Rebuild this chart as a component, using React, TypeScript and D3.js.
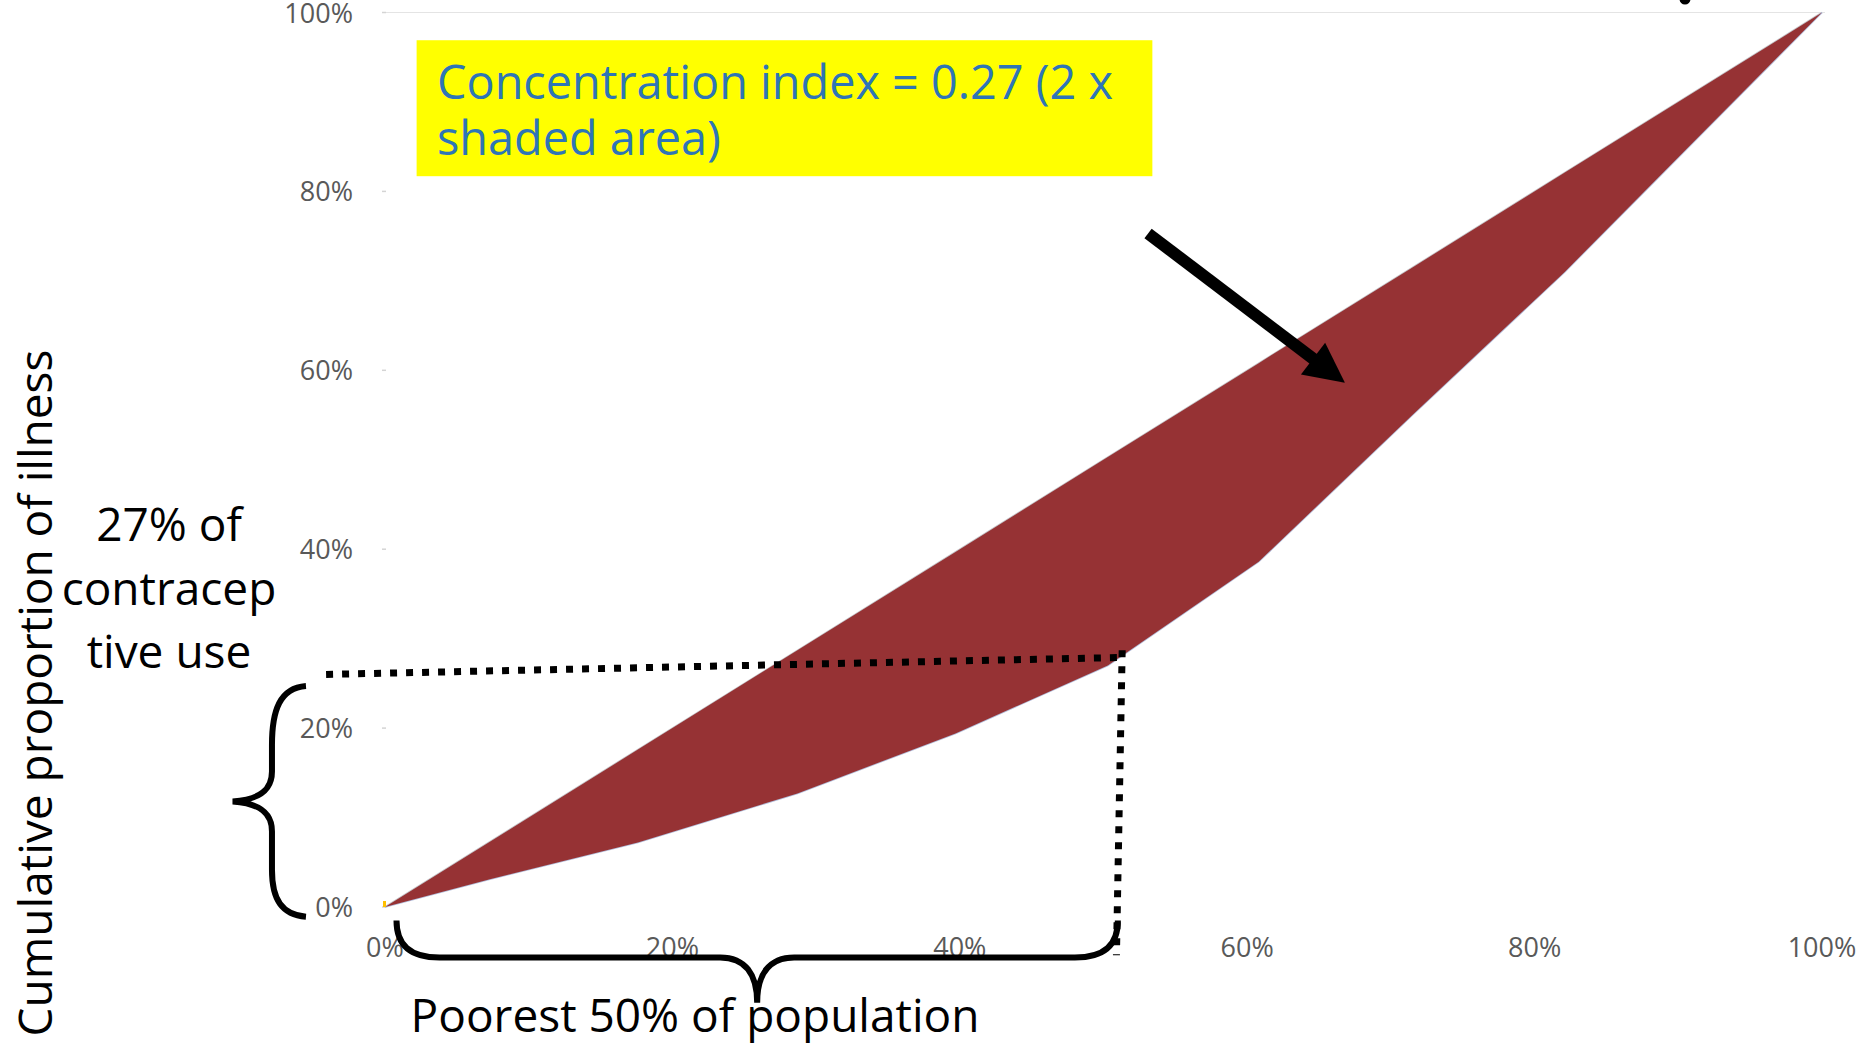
import React from "react";
import * as d3 from "d3";

// cumulative share of population (ranked poorest first) and of illness, in %
const populationShare = [0, 7.3, 17.6, 28.7, 39.7, 50.3, 60.8, 71.5, 82.1, 100];
const illnessShare = [0, 3.1, 7.2, 12.7, 19.4, 27.0, 38.6, 55.0, 71.0, 100];
const tickValues = [0, 20, 40, 60, 80, 100];

// annotation anchors, in data units (%)
const dottedH = [[-4.1, 26.0], [51.3, 27.9]];
const dottedV = [[51.3, 28.7], [50.9, -5.4]];
const arrowPts = [[53.1, 75.3], [66.8, 58.6]];
const boxCorners = [[2.2, 96.9], [53.4, 81.7]];
const boxLines = ["Concentration index = 0.27 (2 x", "shaded area)"];
const sideLines = ["27% of", "contracep", "tive use"];

const W = 1860;
const H = 1044;
const font = "'Open Sans', 'Liberation Sans', sans-serif";

const App = () => {
  const x = d3.scaleLinear().domain([0, 100]).range([385, 1822]);
  const y = d3.scaleLinear().domain([0, 100]).range([907, 12.5]);

  const pts = populationShare.map((p, i) => ({ p, c: illnessShare[i] }));

  const area = d3
    .area<{ p: number; c: number }>()
    .x((d) => x(d.p))
    .y0((d) => y(d.c))
    .y1((d) => y(d.p));

  const curve = d3
    .line<{ p: number; c: number }>()
    .x((d) => x(d.p))
    .y((d) => y(d.c));

  // arrow geometry
  const [ax0, ay0] = [x(arrowPts[0][0]), y(arrowPts[0][1])];
  const [ax1, ay1] = [x(arrowPts[1][0]), y(arrowPts[1][1])];
  const len = Math.hypot(ax1 - ax0, ay1 - ay0);
  const ux = (ax1 - ax0) / len;
  const uy = (ay1 - ay0) / len;
  const headL = 40;
  const headW = 20;
  const bx = ax1 - ux * headL;
  const by = ay1 - uy * headL;
  const head = `M${ax1},${ay1} L${bx - uy * headW},${by + ux * headW} L${bx + uy * headW},${by - ux * headW} Z`;

  // braces
  const lbX = x(-5.5);
  const lbTop = y(24.7);
  const lbBot = y(-1.1);
  const lbTip = x(-10.6);
  const lbMid = (lbTop + lbBot) / 2;
  const lbIn = lbX - 34;
  const leftBrace = `M${lbX},${lbTop} C${lbX - 26},${lbTop + 2} ${lbIn},${lbTop + 24} ${lbIn},${lbTop + 59}
    L${lbIn},${lbMid - 30} C${lbIn},${lbMid - 12} ${lbTip + 28},${lbMid - 2} ${lbTip},${lbMid}
    C${lbTip + 28},${lbMid + 2} ${lbIn},${lbMid + 12} ${lbIn},${lbMid + 30}
    L${lbIn},${lbBot - 47} C${lbIn},${lbBot - 17} ${lbX - 24},${lbBot - 2} ${lbX},${lbBot}`;

  const bbY = y(-1.5);
  const bbL = x(0.8);
  const bbR = x(51.0);
  const bbTip = y(-10.7);
  const bbMid = (bbL + bbR) / 2;
  const bbIn = bbY + 37;
  const bottomBrace = `M${bbL},${bbY} C${bbL},${bbY + 24} ${bbL + 13},${bbIn} ${bbL + 43},${bbIn}
    L${bbMid - 37},${bbIn} C${bbMid - 12},${bbIn} ${bbMid},${bbIn + 17} ${bbMid},${bbTip}
    C${bbMid},${bbIn + 17} ${bbMid + 12},${bbIn} ${bbMid + 37},${bbIn}
    L${bbR - 43},${bbIn} C${bbR - 13},${bbIn} ${bbR},${bbY + 24} ${bbR},${bbY}`;

  return (
    <svg
      width={W}
      height={H}
      style={{ position: "absolute", left: 0, top: 0, background: "#fff" }}
    >
      {/* top gridline */}
      <line x1={x(0)} x2={x(100) + 3} y1={y(100)} y2={y(100)} stroke="#e4e4e4" strokeWidth={1} />

      {/* y ticks and labels */}
      {tickValues.map((t) => (
        <g key={"y" + t}>
          <line x1={x(0) - 3} x2={x(0) + 1} y1={y(t)} y2={y(t)} stroke="#d4d4d4" strokeWidth={1.5} />
          <text
            x={353}
            y={y(t) + 10}
            textAnchor="end"
            fontFamily={font}
            fontSize={27}
            fill="#595959"
          >
            {t}%
          </text>
        </g>
      ))}

      {/* x labels */}
      {tickValues.map((t) => (
        <text
          key={"x" + t}
          x={x(t)}
          y={957}
          textAnchor="middle"
          fontFamily={font}
          fontSize={27}
          fill="#595959"
        >
          {t}%
        </text>
      ))}

      {/* equality line and concentration curve edges */}
      <line x1={x(0)} y1={y(0)} x2={x(100)} y2={y(100)} stroke="#c4c4c8" strokeWidth={1.6} />
      <path d={curve(pts) || ""} fill="none" stroke="#b3bfdc" strokeWidth={1.6} />
      {/* shaded area between them */}
      <path d={area(pts) || ""} fill="#963234" />
      <rect x={x(0) - 2} y={y(0) - 6} width={3} height={6} fill="#ffc000" />

      {/* dotted guides */}
      <line
        x1={x(dottedH[0][0])}
        y1={y(dottedH[0][1])}
        x2={x(dottedH[1][0])}
        y2={y(dottedH[1][1])}
        stroke="#000"
        strokeWidth={7}
        strokeDasharray="7 9"
      />
      <line
        x1={x(dottedV[0][0])}
        y1={y(dottedV[0][1])}
        x2={x(dottedV[1][0])}
        y2={y(dottedV[1][1])}
        stroke="#000"
        strokeWidth={7}
        strokeDasharray="7 9"
      />

      {/* braces */}
      <path d={leftBrace} fill="none" stroke="#000" strokeWidth={6} />
      <path d={bottomBrace} fill="none" stroke="#000" strokeWidth={6} />

      {/* arrow */}
      <line x1={ax0} y1={ay0} x2={bx + ux * 2} y2={by + uy * 2} stroke="#000" strokeWidth={12} />
      <path d={head} fill="#000" />

      {/* annotation box */}
      <rect
        x={x(boxCorners[0][0])}
        y={y(boxCorners[0][1])}
        width={x(boxCorners[1][0]) - x(boxCorners[0][0])}
        height={y(boxCorners[1][1]) - y(boxCorners[0][1])}
        fill="#ffff00"
      />
      {boxLines.map((s, i) => (
        <text key={s} x={437} y={99 + i * 56} fontFamily={font} fontSize={46.8} fill="#2e75b6">
          {s}
        </text>
      ))}

      {/* side note */}
      {sideLines.map((s, i) => (
        <text
          key={s}
          x={169}
          y={541 + i * 63.5}
          textAnchor="middle"
          fontFamily={font}
          fontSize={46}
          fill="#000"
        >
          {s}
        </text>
      ))}

      {/* axis titles */}
      <text
        transform="translate(52,693) rotate(-90)"
        textAnchor="middle"
        fontFamily={font}
        fontSize={46}
        fill="#000"
      >
        Cumulative proportion of illness
      </text>
      <text x={695} y={1032} textAnchor="middle" fontFamily={font} fontSize={46} fill="#000">
        Poorest 50% of population
      </text>

      {/* cut-off mark at top edge */}
      <circle cx={1685} cy={-1} r={5.5} fill="#000" />
    </svg>
  );
};

export default App;
